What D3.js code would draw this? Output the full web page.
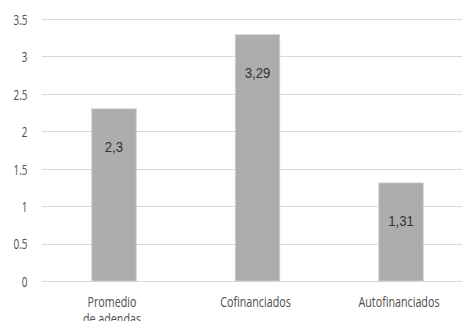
<!DOCTYPE html>
<html>
<head>
<meta charset="utf-8">
<script src="https://cdn.jsdelivr.net/npm/d3@7"></script>
<style>
  html, body { margin: 0; padding: 0; background: #fff; }
  svg { display: block; }
  .grid line { stroke: #d9d9d9; stroke-width: 1; }
  .tick-label { font-family: "Open Sans", sans-serif; font-size: 15px; fill: #4d4d4d; }
  .cat-label { font-family: "Open Sans", sans-serif; font-size: 14.5px; fill: #4d4d4d; }
  .value-label { font-family: "Liberation Sans", Arial, sans-serif; font-size: 15px; fill: #333; }
</style>
</head>
<body>
<svg id="chart" width="462" height="321"></svg>
<script>
const categories = ["Promedio de adendas", "Cofinanciados", "Autofinanciados"];
const values = [2.3, 3.29, 1.31];
const valueLabels = ["2,3", "3,29", "1,31"];
const yTicks = [0, 0.5, 1, 1.5, 2, 2.5, 3, 3.5];
const yTickLabels = ["0", "0.5", "1", "1.5", "2", "2.5", "3", "3.5"];

const svg = d3.select("#chart");

const x = d3.scaleBand()
  .domain(categories)
  .range([42.25, 472.75])
  .paddingInner(0.69)
  .paddingOuter(0.345);

const y = d3.scaleLinear().domain([0, 3.5]).range([281, 19]);

// gridlines
svg.append("g")
  .attr("class", "grid")
  .selectAll("line")
  .data(yTicks)
  .enter()
  .append("line")
  .attr("x1", 42)
  .attr("x2", 462)
  .attr("y1", (d) => Math.round(y(d)) + 0.5)
  .attr("y2", (d) => Math.round(y(d)) + 0.5);

// y tick labels (squeezed like the source)
svg.append("g")
  .selectAll("text")
  .data(yTicks)
  .enter()
  .append("text")
  .attr("class", "tick-label")
  .attr("text-anchor", "end")
  .attr("dominant-baseline", "central")
  .attr("transform", (d) => `translate(27.5, ${y(d)}) scale(0.66, 1)`)
  .text((d, i) => yTickLabels[i]);

// bars
svg.append("g")
  .selectAll("rect")
  .data(values)
  .enter()
  .append("rect")
  .attr("x", (d, i) => x(categories[i]))
  .attr("y", (d) => y(d))
  .attr("width", x.bandwidth())
  .attr("height", (d) => y(0) - y(d))
  .attr("fill", "#adadb0")
  .attr("stroke", "#cfcfd1")
  .attr("stroke-width", 0.8);

// value labels inside bars
svg.append("g")
  .selectAll("text")
  .data(values)
  .enter()
  .append("text")
  .attr("class", "value-label")
  .attr("text-anchor", "middle")
  .attr("dominant-baseline", "central")
  .attr("transform", (d, i) => `translate(${x(categories[i]) + x.bandwidth() / 2}, ${y(d) + 38}) scale(0.88, 1)`)
  .text((d, i) => valueLabels[i]);

// category labels, wrapped
const wrapCat = (label) => (label === "Promedio de adendas" ? ["Promedio", "de adendas"] : [label]);

const cats = svg.append("g")
  .selectAll("text")
  .data(categories)
  .enter()
  .append("text")
  .attr("class", "cat-label")
  .attr("text-anchor", "middle")
  .attr("transform", (d) => `translate(${x(d) + x.bandwidth() / 2 - 2}, 307) scale(0.74, 1)`);

cats.each(function (d) {
  const t = d3.select(this);
  wrapCat(d).forEach((line, i) => {
    t.append("tspan").attr("x", 0).attr("y", i * 17).text(line);
  });
});
</script>
</body>
</html>
